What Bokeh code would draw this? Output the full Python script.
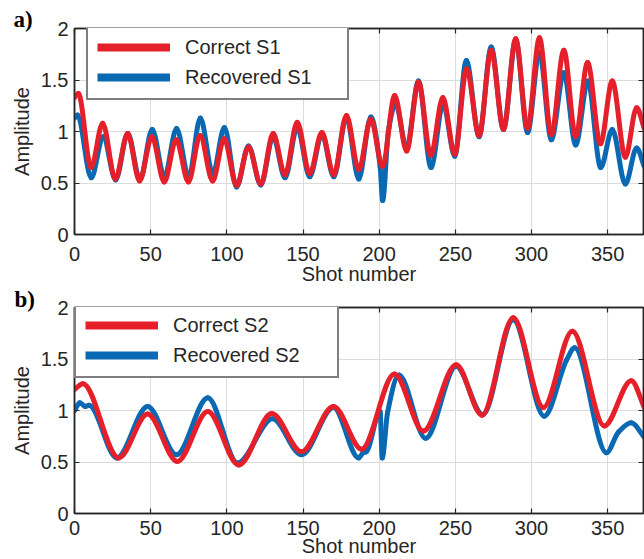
import numpy as np
from bokeh.plotting import figure
from bokeh.layouts import column
from bokeh.models import (Range1d, LinearAxis, FixedTicker, Legend, LegendItem,
                          ColumnDataSource)
from bokeh.embed import file_html
from bokeh.resources import INLINE

# ---------------- data (turning points of each curve) -------------
a_correct_x = [0, 2.5, 10.9, 18.5, 26.8, 34.9, 42.7, 50.8, 58.9, 66.7, 74.8, 82.4, 90.7,
               98.2, 106.4, 114.2, 122.3, 130.4, 138.2, 146.2, 154.4, 162.4, 170.2, 178.5,
               186.6, 194.5, 202.2, 210.2, 218.0, 225.8, 233.9, 241.8, 249.6, 257.4, 265.6,
               273.5, 281.6, 289.6, 297.4, 305.2, 313.0, 321.2, 329.0, 336.8, 345.2, 353.0,
               361.6, 369.0, 374.0]
a_correct_y = [1.33, 1.37, 0.65, 1.08, 0.54, 0.98, 0.52, 0.95, 0.51, 0.92, 0.51, 0.96, 0.52,
               0.93, 0.475, 0.85, 0.49, 0.98, 0.58, 1.09, 0.59, 0.99, 0.58, 1.155,
               0.63, 1.12, 0.66, 1.35, 0.81, 1.48, 0.77, 1.33, 0.78, 1.61, 0.96,
               1.79, 1.02, 1.90, 1.03, 1.91, 0.97, 1.79, 0.95, 1.67, 0.88, 1.49,
               0.75, 1.23, 1.03]

a_recovered_x = [0, 2.0, 11.0, 18.8, 27.0, 35.0, 43.0, 51.0, 59.0, 67.0, 75.0, 82.6, 90.8,
                 98.4, 106.4, 114.2, 122.3, 130.4, 138.2, 146.2, 154.4, 162.4, 170.2, 178.5,
                 186.6, 194.5, 200.6, 202.3, 206.0, 210.8, 218.0, 225.8, 234.0, 242.0,
                 249.6, 257.2, 265.6, 273.5, 281.6, 289.6, 297.4, 305.2, 313.0, 321.2,
                 329.0, 337.0, 345.4, 353.0, 361.6, 369.0, 374.0]
a_recovered_y = [1.13, 1.16, 0.55, 0.95, 0.53, 0.98, 0.53, 1.02, 0.56, 1.03, 0.56, 1.13, 0.59,
                 1.04, 0.46, 0.86, 0.48, 0.95, 0.55, 1.04, 0.56, 0.97, 0.56, 1.14,
                 0.54, 1.14, 0.66, 0.33, 1.00, 1.27, 0.84, 1.49, 0.65, 1.27,
                 0.76, 1.69, 0.95, 1.82, 1.02, 1.89, 0.99, 1.77, 0.92, 1.57,
                 0.87, 1.49, 0.65, 1.02, 0.49, 0.84, 0.66]

b_correct_x = [0, 5.5, 29.0, 48.0, 67.5, 87.5, 107.8, 129.5, 149.0, 170.0, 188.5, 210.0,
               229.0, 250.5, 267.5, 288.0, 307.8, 326.8, 347.8, 365.5, 374.0]
b_correct_y = [1.205, 1.26, 0.54, 0.965, 0.505, 0.99, 0.47, 0.97, 0.60, 1.04, 0.625, 1.355,
               0.80, 1.445, 0.955, 1.90, 1.03, 1.77, 0.85, 1.29, 1.03]

b_recovered_x = [0, 3.5, 7.0, 9.5, 27.8, 48.0, 67.0, 87.5, 107.0, 130.0, 149.0, 170.0,
                 186.5, 189.5, 191.5, 200.6, 202.0, 205.5, 213.0, 230.5, 250.5, 268.0,
                 288.0, 308.3, 323.0, 328.3, 349.2, 357.0, 365.5, 374.0]
b_recovered_y = [1.0, 1.075, 1.04, 1.05, 0.54, 1.04, 0.57, 1.125, 0.49, 0.92, 0.57, 1.03,
                 0.54, 0.59, 0.60, 0.99, 0.54, 0.98, 1.345, 0.73, 1.43, 0.96,
                 1.88, 0.945, 1.49, 1.61, 0.59, 0.79, 0.88, 0.74]

x_ticks = [0, 50, 100, 150, 200, 250, 300, 350]
y_ticks = [0, 0.5, 1, 1.5, 2]
y_tick_labels = ["0", "0.5", "1", "1.5", "2"]
legend_a = ["Correct S1", "Recovered S1"]
legend_b = ["Correct S2", "Recovered S2"]
x_title = "Shot number"
y_title = "Amplitude"

X_START, X_END = 0, 373.5
RED = "#e5202a"
BLUE = "#0a69b3"
INK = "#262626"
FONT = "Liberation Sans"


def smooth_segments(xs, ys):
    """Monotone cubic (Fritsch-Carlson) curve through the read points, as Bezier segments."""
    x = np.asarray(xs, float)
    y = np.asarray(ys, float)
    h = np.diff(x)
    d = np.diff(y) / h
    m = np.zeros_like(y)
    m[0], m[-1] = d[0], d[-1]
    for i in range(1, len(y) - 1):
        if d[i - 1] * d[i] <= 0:
            m[i] = 0.0
        else:
            w1 = 2 * h[i] + h[i - 1]
            w2 = h[i] + 2 * h[i - 1]
            m[i] = (w1 + w2) / (w1 / d[i - 1] + w2 / d[i])
    return ColumnDataSource(dict(
        x0=x[:-1], y0=y[:-1], x1=x[1:], y1=y[1:],
        cx0=x[:-1] + h / 3, cy0=y[:-1] + m[:-1] * h / 3,
        cx1=x[1:] - h / 3, cy1=y[1:] - m[1:] * h / 3))


def make_panel(height, top, bottom, left, frame_h, cx, cy, rx, ry, names, tag,
               title_standoff, leg_dx, leg_w, xstand, xtitle_stand):
    p = figure(width=644, height=height, output_backend="svg", toolbar_location=None,
               x_range=Range1d(X_START, X_END), y_range=Range1d(0, 2),
               min_border_left=left, min_border_right=1, min_border_top=top,
               min_border_bottom=bottom, background_fill_color="white",
               border_fill_color="white")
    p.title.text = tag
    p.title.text_font = "Liberation Serif"
    p.title.text_font_style = "bold"
    p.title.text_font_size = "23px"
    p.title.text_color = "black"
    p.title.align = "left"
    p.title.offset = 13 - left
    p.title.standoff = title_standoff

    p.add_layout(LinearAxis(), "above")
    p.add_layout(LinearAxis(), "right")
    for ax in p.xaxis:
        ax.ticker = FixedTicker(ticks=x_ticks)
    for ax in p.yaxis:
        ax.ticker = FixedTicker(ticks=y_ticks)
        ax.major_label_overrides = dict(zip(y_ticks, y_tick_labels))
    for ax in p.axis:
        ax.major_tick_in = 5
        ax.major_tick_out = 0
        ax.minor_tick_line_color = None
        ax.axis_line_color = INK
        ax.axis_line_width = 1.5
        ax.major_tick_line_color = INK
        ax.major_tick_line_width = 1.2
        ax.major_label_text_font = FONT
        ax.major_label_text_font_size = "20px"
        ax.major_label_text_color = INK
    for ax in (p.above[-1], p.right[0]):
        ax.major_label_text_font_size = "0px"
        ax.major_label_text_color = None
        ax.major_label_standoff = 0
    xb = p.below[0]
    xb.major_label_standoff = xstand
    xb.axis_label = x_title
    xb.axis_label_standoff = xtitle_stand
    yl = p.left[0]
    yl.major_label_standoff = 6
    yl.axis_label = y_title
    yl.axis_label_standoff = 5
    for ax in (xb, yl):
        ax.axis_label_text_font = FONT
        ax.axis_label_text_font_size = "20px"
        ax.axis_label_text_font_style = "normal"
        ax.axis_label_text_color = INK

    p.xgrid.ticker = FixedTicker(ticks=x_ticks)
    p.ygrid.ticker = FixedTicker(ticks=y_ticks)
    p.xgrid.grid_line_color = "#dcdcdc"
    p.ygrid.grid_line_color = "#dcdcdc"
    p.outline_line_color = INK
    p.outline_line_width = 1.5

    p.bezier(x0="x0", y0="y0", x1="x1", y1="y1", cx0="cx0", cy0="cy0", cx1="cx1",
             cy1="cy1", source=smooth_segments(rx, ry), line_color=BLUE,
             line_width=5, line_cap="round")
    p.bezier(x0="x0", y0="y0", x1="x1", y1="y1", cx0="cx0", cy0="cy0", cx1="cx1",
             cy1="cy1", source=smooth_segments(cx, cy), line_color=RED,
             line_width=5, line_cap="round")

    # legend swatches (no visible points of their own)
    lr = p.line(x=[X_START, X_END], y=[np.nan, np.nan], line_color=RED, line_width=8)
    lb = p.line(x=[X_START, X_END], y=[np.nan, np.nan], line_color=BLUE, line_width=8)
    leg_h = 72
    legend = Legend(items=[LegendItem(label=names[0], renderers=[lr], index=0),
                           LegendItem(label=names[1], renderers=[lb], index=0)],
                    location=(leg_dx, frame_h - leg_h), orientation="vertical",
                    border_line_color="black", border_line_width=2,
                    background_fill_color="white", background_fill_alpha=1.0,
                    padding=9, spacing=6, margin=0, glyph_width=73, glyph_height=24,
                    label_height=24, label_width=leg_w - 18 - 73 - 15, label_standoff=15,
                    label_text_font=FONT, label_text_font_size="20px",
                    label_text_color=INK)
    p.add_layout(legend)
    return p


pa = make_panel(288, 28, 54, 74, 206, a_correct_x, a_correct_y, a_recovered_x,
                a_recovered_y, legend_a, "a)", -6, 12, 259, 12, -1)
pb = make_panel(271, 18, 46, 73, 207, b_correct_x, b_correct_y, b_recovered_x,
                b_recovered_y, legend_b, "b)", -8, 0, 261, 7, -3)

layout = column(pa, pb, spacing=0)
open("out.html", "w").write(file_html(layout, INLINE))
